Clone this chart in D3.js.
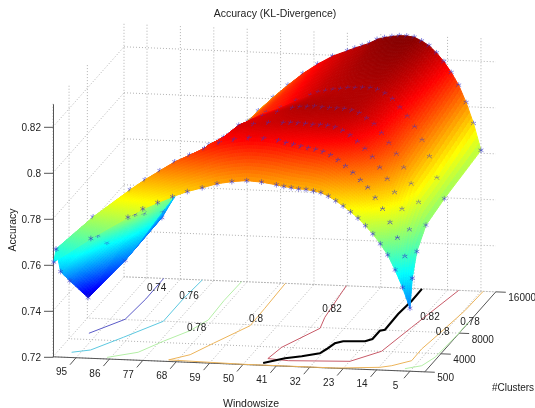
<!DOCTYPE html>
<html><head><meta charset="utf-8">
<script src="https://cdn.jsdelivr.net/npm/d3@7"></script>
<style>html,body{margin:0;padding:0;background:#fff}svg{display:block;filter:blur(.35px)}text{font-family:"Liberation Sans",Arial,sans-serif;fill:#222}</style>
</head><body><svg id="c" width="535" height="408"></svg>
<script>
const windows=[5,7,9,11,13,15,17,19,21,23,25,27,29,31,33,35,37,39,41,45,49,53,57,61,65,69,73,77,81,91,101];
const clusters=[500,1000,2000,4000,8000,16000];
const acc500=[.7474,.7563,.7638,.7702,.7749,.7791,.7825,.7857,.7883,.7907,.7928,.7947,.7961,.7967,.7972,.7973,.7977,.7981,.7987,.7996,.8,.7993,.7981,.7961,.7942,.7917,.7889,.7859,.782,.7721,.7612];
const acc1000=[.7593,.7686,.7765,.7831,.7888,.7935,.7978,.8009,.804,.8067,.8092,.8112,.8126,.8134,.8139,.8145,.8152,.8158,.8167,.8173,.8173,.8163,.8147,.812,.8089,.8057,.8016,.7974,.7928,.7803,.7657];
const acc2000=[.7687,.778,.7868,.7939,.7996,.8044,.8089,.8123,.8153,.8179,.8198,.8211,.8217,.8219,.8218,.8221,.8222,.8223,.8221,.8219,.821,.8205,.815,.8114,.806,.8,.794,.787,.78,.7702,.7537];
const acc4000=[.7757,.7854,.7933,.8002,.806,.8106,.8148,.8186,.8209,.8231,.8241,.8246,.8247,.8247,.8249,.8252,.8249,.8247,.8241,.8221,.8202,.8176,.813,.8086,.803,.7965,.793,.7865,.776,.7626,.7452];
const acc8000=[.7782,.787,.7962,.8032,.8088,.8133,.817,.8205,.8228,.8243,.8249,.8249,.8246,.8245,.8239,.8235,.8228,.8221,.8207,.818,.8147,.8125,.809,.8035,.797,.79,.783,.7765,.768,.7458,.7289];
const acc16000=[.7813,.7928,.8018,.8092,.8146,.8192,.8229,.8259,.8278,.8293,.8297,.8297,.8292,.8286,.8277,.8259,.8247,.8235,.8222,.8196,.8159,.8115,.8062,.8006,.7945,.788,.7835,.7785,.7735,.7464,.735];
const accuracy=[acc500,acc1000,acc2000,acc4000,acc8000,acc16000];
const windowTicks=[95,86,77,68,59,50,41,32,23,14,5];
const clusterTicks=[500,4000,8000,16000];
const accuracyTicks=[.72,.74,.76,.78,.8,.82];
const contour074=[[97.3,5173],[91.1,8062],[90.4,12021],[90.5,16000]];
const contour076=[[97.4,1487],[93,2058],[87.4,4680],[80.7,7977],[80.7,12297],[80.1,16000]];
const contour078a=[[87,800],[80.1,1992],[76.1,4236],[71.6,6419],[69.3,8560],[69.7,12288],[69.5,16000]];
const contour078b=[[6.9,939],[3.2,1628],[1.7,3298],[1.1,7190],[1.1,10100]];
const contour080a=[[57.7,16000],[57.3,11178],[57.1,7810],[62.6,4240],[66,1932],[70.4,800],[50,540],[25,540],[13.7,1010],[11,1402],[7,2487],[7.1,4750],[6.2,7351],[4.7,12241],[4.4,16000]];
const contour082=[[41.3,16000],[39.6,9947],[38.3,7850],[43.9,4009],[44.9,1800],[39.1,1554],[22.9,1906],[17,4019],[14.7,8733],[11,16000]];
const ridgeLine=[[45.1,934],[40.5,1977],[36.6,2476],[32.6,3177],[31.8,4029],[31,5164],[29.3,5596],[23.6,5764],[22.2,6247],[22.2,7856],[21.1,8082],[21.3,11122],[20.8,13709],[20.9,16000]];
const contourLabels=[["0.74",156.7,287.3],["0.76",189,295.7],["0.78",196.7,327.3],["0.8",256,318],["0.82",332,308],["0.82",430,316],["0.8",442.7,331],["0.78",470,321]];

const svg=d3.select("#c");
const xToPx=d3.scaleLinear().domain([1,101.2]).range([424.8,53]);
const xToPy=d3.scaleLinear().domain([1,101.2]).range([371.85,356.8]);
const cToPx=d3.scaleLinear().domain([500,16000]).range([0,71]);
const cToPy=d3.scaleLinear().domain([500,16000]).range([0,-80]);
const zToPy=d3.scaleLinear().domain([.72,.83]).range([0,-253]);
const P=(x,c,z=.72)=>[xToPx(x)+cToPx(c),xToPy(x)+cToPy(c)+zToPy(z)];
const xMin=1,xMax=101.2,cMin=500,cMax=16000,zMin=.72,zMax=.83;

const line=d3.line();
const gGrid=svg.append("g").attr("fill","none").attr("stroke","#a9a9a9").attr("stroke-width",.9).attr("stroke-dasharray","1 2");
function seg(a,b){gGrid.append("path").attr("d",line([a,b]));}
windowTicks.forEach(x=>{seg(P(x,cMin),P(x,cMax));seg(P(x,cMax),P(x,cMax,zMax));});
clusterTicks.forEach(c=>{seg(P(xMin,c),P(xMax,c));seg(P(xMax,c),P(xMax,c,zMax));});
accuracyTicks.forEach(z=>{seg(P(xMax,cMin,z),P(xMax,cMax,z));seg(P(xMax,cMax,z),P(xMin,cMax,z));});

const gAxis=svg.append("g").attr("stroke","#555").attr("fill","none").attr("stroke-width",1);
gAxis.append("path").attr("d",line([P(xMax,cMin),P(xMin,cMin)]));
gAxis.append("path").attr("d",line([P(xMin,cMin),P(xMin,cMax)]));
const zAxis=d3.axisLeft(d3.scaleLinear().domain([.72,.83]).range([P(xMax,cMin)[1],P(xMax,cMin,.83)[1]]))
  .tickValues(accuracyTicks).tickSize(9).tickSizeOuter(0).tickPadding(3).tickFormat(d=>String(d).replace(/^\./,"0."));
const za=svg.append("g").attr("transform",`translate(${P(xMax,cMin)[0]},0)`).call(zAxis);
za.selectAll("path,line").attr("stroke","#555");
za.selectAll("text").attr("font-size",10).attr("font-family",null);
windowTicks.forEach(x=>{
  const p=P(x,cMin);
  gAxis.append("path").attr("d",line([p,[p[0]-6,p[1]+7]]));
  svg.append("text").attr("x",p[0]-14.5).attr("y",p[1]+14).attr("dy",".35em").attr("text-anchor","middle").attr("font-size",10).text(x);
});
clusterTicks.forEach(c=>{
  const p=P(xMin,c);
  gAxis.append("path").attr("d",line([p,[p[0]+10,p[1]+.4]]));
  svg.append("text").attr("x",p[0]+12.5).attr("y",p[1]+6).attr("dy",".35em").attr("font-size",10).text(c);
});

const jetStops=[0,.125,.375,.625,.875,1];
const jet=d3.scaleLinear().domain(jetStops).range(["#000080","#0000ff","#00ffff","#ffff00","#ff0000","#800000"]).clamp(true);
const norm=d3.scaleLinear().domain([.72,.83]).range([0,1]).clamp(true);
const surfaceColor=v=>jet(norm(v));
const proj=pts=>line(pts.map(d=>P(d[0],d[1])));
const gC=svg.append("g").attr("fill","none").attr("stroke-width",1);
[[contour074,"#5a5ac8"],[contour076,"#5cc8e0"],[contour078a,"#b4efa6"],[contour078b,"#b4efa6"],[contour080a,"#ecb45a"],[contour082,"#c85a68"]]
 .forEach(([d,col])=>gC.append("path").attr("d",proj(d)).attr("stroke",col));
gC.append("path").attr("d",proj(ridgeLine)).attr("stroke","#000").attr("stroke-width",2.1);
contourLabels.forEach(([t,x,y])=>svg.append("text").attr("x",x).attr("y",y).attr("dy",".35em").attr("text-anchor","middle").attr("font-size",10).text(t));

const gS=svg.append("g");
const star=d3.symbol(d3.symbolAsterisk,22);
const starOpacity=[.7,.85,.7,.6,.6,.75];
const nx=clusters.length,mx=windows.length;
function vertex(i,j){return {p:P(windows[i],clusters[j],accuracy[j][i]),v:accuracy[j][i]};}
function drawStar(i,j){
  const p=vertex(i,j).p;
  gS.append("path").attr("d",star()).attr("transform",`translate(${p[0]},${p[1]})`)
    .attr("fill","none").attr("stroke","#3636cc").attr("stroke-width",.8).attr("stroke-opacity",starOpacity[j]);
}
function drawCell(i,j){
  const a=vertex(i,j),b=vertex(i+1,j),c=vertex(i+1,j+1),d=vertex(i,j+1);
  const sx=Math.max(3,Math.round((windows[i+1]-windows[i])*2)),sc=12;
  const bl=(s,t,k)=>(1-s)*(1-t)*k(a)+s*(1-t)*k(b)+s*t*k(c)+(1-s)*t*k(d);
  const X=e=>e.p[0],Y=e=>e.p[1],V=e=>e.v;
  const pt=(s,t)=>[bl(s,t,X),bl(s,t,Y)];
  for(let q=sc-1;q>=0;q--)for(let r=sx-1;r>=0;r--){
    const s0=r/sx,s1=(r+1)/sx,t0=q/sc,t1=(q+1)/sc;
    const col=surfaceColor(bl((s0+s1)/2,(t0+t1)/2,V));
    gS.append("path").attr("d",line([pt(s0,t0),pt(s1,t0),pt(s1,t1),pt(s0,t1)])+"Z")
      .attr("fill",col).attr("stroke",col).attr("stroke-width",1).attr("stroke-linejoin","round");
  }
}
for(let j=nx-2;j>=0;j--){
  for(let i=mx-2;i>=0;i--){
    drawCell(i,j);
    if(i===mx-2)drawStar(mx-1,j+1);
    drawStar(i,j+1);
  }
}
for(let i=mx-1;i>=0;i--)drawStar(i,0);

svg.append("text").attr("x",275).attr("y",13).attr("dy",".35em").attr("text-anchor","middle").attr("font-size",10.5).text("Accuracy (KL-Divergence)");
svg.append("text").attr("transform","translate(12.5,230) rotate(-90)").attr("dy",".35em").attr("text-anchor","middle").attr("font-size",10.5).text("Accuracy");
svg.append("text").attr("x",251).attr("y",403).attr("dy",".35em").attr("text-anchor","middle").attr("font-size",10.5).text("Windowsize");
svg.append("text").attr("x",513).attr("y",387).attr("dy",".35em").attr("text-anchor","middle").attr("font-size",10).text("#Clusters");
</script></body></html>
